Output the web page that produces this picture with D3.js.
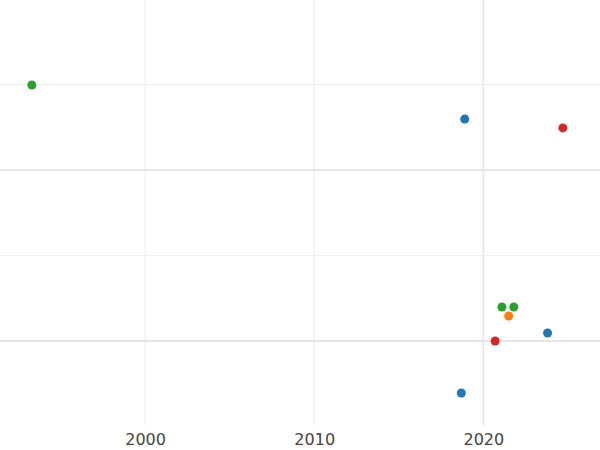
<!DOCTYPE html>
<html><head><meta charset="utf-8">
<script src="https://cdn.jsdelivr.net/npm/d3@7"></script>
<style>body{margin:0;background:#fff}</style></head>
<body><svg id="c" width="600" height="450"></svg>
<script>
const years = [1993.3, 2018.9, 2024.7, 2021.1, 2021.8, 2021.5, 2023.8, 2020.7, 2018.7];
const values = [1.497, 1.298, 1.246, 0.199, 0.199, 0.146, 0.047, 0.0, -0.304];
const groups = ["green","blue","red","green","green","orange","blue","red","blue"];
const xTicks = [2000, 2010, 2020];
const yMajor = [0, 1];
const yMinor = [0.5, 1.5];
const colorMap = {blue:"#1f77b4", orange:"#ff7f0e", green:"#2ca02c", red:"#d62728"};

const svg = d3.select("#c");
const x = d3.scaleLinear().domain([1991.42, 2026.9]).range([0, 600]);
const y = d3.scaleLinear().domain([0, 1]).range([341, 170]);
const plotTop = 0, plotBottom = 425;

svg.selectAll(".vg").data(xTicks).join("line")
  .attr("x1", d => x(d)).attr("x2", d => x(d)).attr("y1", plotTop).attr("y2", plotBottom)
  .attr("stroke", "#ebebeb").attr("stroke-width", d => d === 2020 ? 2 : 1);
svg.selectAll(".hmin").data(yMinor).join("line")
  .attr("x1", 0).attr("x2", 600).attr("y1", d => y(d)).attr("y2", d => y(d))
  .attr("stroke", "#efefef").attr("stroke-width", 1);
svg.selectAll(".hmaj").data(yMajor).join("line")
  .attr("x1", 0).attr("x2", 600).attr("y1", d => y(d)).attr("y2", d => y(d))
  .attr("stroke", "#e6e6e6").attr("stroke-width", 2);

const ax = svg.append("g").attr("transform", `translate(0,${plotBottom})`)
  .call(d3.axisBottom(x).tickValues(xTicks).tickFormat(d3.format("d")).tickSize(0).tickPadding(9));
ax.select(".domain").remove();
ax.selectAll("text").attr("font-family", "DejaVu Sans").attr("font-size", 16).attr("fill", "#444");

svg.selectAll("circle").data(years).join("circle")
  .attr("cx", d => x(d)).attr("cy", (d, i) => y(values[i])).attr("r", 4.5)
  .attr("fill", (d, i) => colorMap[groups[i]]);
</script></body></html>
